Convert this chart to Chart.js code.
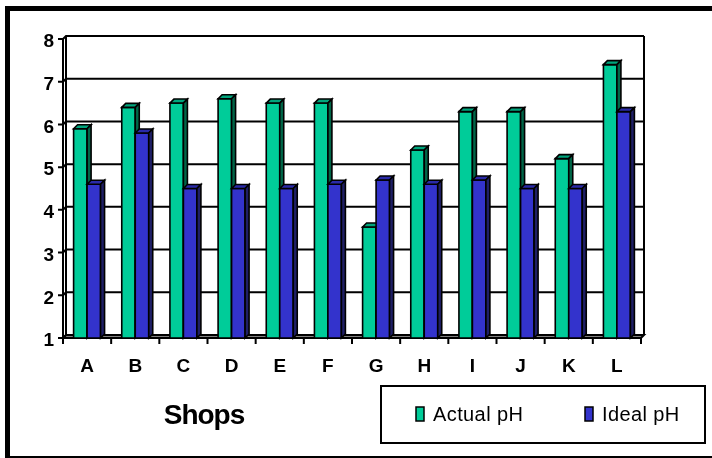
<!DOCTYPE html>
<html>
<head>
<meta charset="utf-8">
<title>Actual vs Ideal pH</title>
<script src="https://cdn.jsdelivr.net/npm/chart.js@4.4.1/dist/chart.umd.min.js"></script>
<style>
    html, body { margin: 0; padding: 0; background: #fff; overflow: hidden; }
    .frame {
        position: absolute; left: 5px; top: 6px;
        width: 730px; height: 455px;
        box-sizing: border-box;
        border: 5px solid #000;
    }
    #phChart { position: absolute; left: 0; top: 0; }
</style>
</head>
<body>
<div class="frame"></div>
<canvas id="phChart" width="712" height="458"></canvas>
<script>
// ====================================
// DATA
// ====================================

const shops = ['A', 'B', 'C', 'D', 'E', 'F', 'G', 'H', 'I', 'J', 'K', 'L'];
const actualPH = [5.9, 6.4, 6.5, 6.6, 6.5, 6.5, 3.6, 5.4, 6.3, 6.3, 5.2, 7.4];
const idealPH = [4.6, 5.8, 4.5, 4.5, 4.5, 4.6, 4.7, 4.6, 4.7, 4.5, 4.5, 6.3];
const yMin = 1;
const yMax = 8;
const axisTitle = 'Shops';

// ====================================
// STYLE
// ====================================

const FONT = '"Liberation Sans", Arial, sans-serif';
const WALL = 3;      // depth offset of the back wall
const DEPTH = 4;     // depth of each column

const greenFaces = { front: '#00CC99', top: '#00A57C', side: '#006648' };
const blueFaces = { front: '#3333CC', top: '#2A2AA8', side: '#1F1F66' };

// ====================================
// 3D COLUMN LOOK
// ====================================

function poly(ctx, pts, fill){
    ctx.beginPath();
    ctx.moveTo(pts[0][0], pts[0][1]);
    for(let i = 1; i < pts.length; i++) ctx.lineTo(pts[i][0], pts[i][1]);
    ctx.closePath();
    if(fill){ ctx.fillStyle = fill; ctx.fill(); }
    ctx.stroke();
}

const columns3d = {
    id: 'columns3d',

    beforeDatasetsDraw(chart){
        const ctx = chart.ctx;
        const a = chart.chartArea;
        const xs = chart.scales.x;
        const ys = chart.scales.y;

        ctx.save();
        ctx.strokeStyle = '#000';
        ctx.lineWidth = 2;

        // floor
        poly(ctx, [
            [a.left, a.bottom], [a.right, a.bottom],
            [a.right + WALL, a.bottom - WALL], [a.left + WALL, a.bottom - WALL]
        ], '#808080');

        // back wall gridlines + y ticks
        ys.ticks.forEach(t => {
            const yy = ys.getPixelForValue(t.value);
            ctx.beginPath();
            ctx.moveTo(a.left - 5, yy);
            ctx.lineTo(a.left, yy);
            ctx.lineTo(a.left + WALL, yy - WALL);
            ctx.lineTo(a.right + WALL, yy - WALL);
            ctx.stroke();
        });

        // wall edges
        ctx.beginPath();
        ctx.moveTo(a.left + WALL, a.top - WALL);
        ctx.lineTo(a.left + WALL, a.bottom - WALL);
        ctx.moveTo(a.right + WALL, a.top - WALL);
        ctx.lineTo(a.right + WALL, a.bottom - WALL);
        ctx.stroke();

        // front axes
        ctx.beginPath();
        ctx.moveTo(a.left, a.top);
        ctx.lineTo(a.left, a.bottom);
        ctx.lineTo(a.right, a.bottom);
        ctx.stroke();

        // category tick marks
        const step = xs.getPixelForValue(1) - xs.getPixelForValue(0);
        for(let i = 0; i <= shops.length; i++){
            const xx = xs.getPixelForValue(0) - step / 2 + i * step;
            ctx.beginPath();
            ctx.moveTo(xx, a.bottom);
            ctx.lineTo(xx, a.bottom + 6);
            ctx.stroke();
        }

        ctx.restore();
    },

    beforeDatasetDraw(){
        return false;
    },

    afterDatasetsDraw(chart){
        const ctx = chart.ctx;
        const faces = [greenFaces, blueFaces];
        const floorY = chart.scales.y.getPixelForValue(yMin);
        ctx.save();
        ctx.strokeStyle = '#000';
        ctx.lineWidth = 1.6;

        for(let i = 0; i < shops.length; i++){
            chart.data.datasets.forEach((ds, d) => {
                const bar = chart.getDatasetMeta(d).data[i];
                const f = faces[d];
                const l = bar.x - bar.width / 2;
                const r = bar.x + bar.width / 2;
                const t = bar.y;
                const b = Math.min(bar.base, floorY);

                poly(ctx, [[l, t], [r, t], [r, b], [l, b]], f.front);
                poly(ctx, [[l, t], [l + DEPTH, t - DEPTH], [r + DEPTH, t - DEPTH], [r, t]], f.top);
                poly(ctx, [[r, t], [r + DEPTH, t - DEPTH], [r + DEPTH, b - DEPTH], [r, b]], f.side);
            });
        }
        ctx.restore();
    },

    afterDraw(chart){
        const ctx = chart.ctx;
        ctx.save();

        // axis title
        ctx.fillStyle = '#000';
        ctx.font = 'bold 28px ' + FONT;
        ctx.letterSpacing = '-1px';
        ctx.textAlign = 'center';
        ctx.textBaseline = 'alphabetic';
        ctx.fillText(axisTitle, 204, 424);
        ctx.letterSpacing = '0px';

        // legend
        ctx.strokeStyle = '#000';
        ctx.lineWidth = 2;
        ctx.strokeRect(381, 386, 324, 57);

        const itemX = [416, 585];
        ctx.font = '20px ' + FONT;
        ctx.letterSpacing = '0.4px';
        ctx.textAlign = 'left';
        chart.data.datasets.forEach((ds, d) => {
            ctx.fillStyle = ds.backgroundColor;
            ctx.lineWidth = 1.5;
            ctx.fillRect(itemX[d], 407, 8, 14);
            ctx.strokeRect(itemX[d], 407, 8, 14);
            ctx.fillStyle = '#000';
            ctx.fillText(ds.label, itemX[d] + 17, 421);
        });

        ctx.restore();
    }
};

// ====================================
// CHART
// ====================================

const ctxPH = document.getElementById('phChart').getContext('2d');
const phChart = new Chart(ctxPH, {
    type: 'bar',
    data: {
        labels: shops,
        datasets: [{
            label: 'Actual pH',
            data: actualPH,
            backgroundColor: greenFaces.front
        }, {
            label: 'Ideal pH',
            data: idealPH,
            backgroundColor: blueFaces.front
        }]
    },
    options: {
        responsive: false,
        animation: false,
        devicePixelRatio: 1,
        layout: {
            padding: { top: 39, right: 71, bottom: 0, left: 0 }
        },
        datasets: {
            bar: { categoryPercentage: 0.56, barPercentage: 1 }
        },
        plugins: {
            legend: { display: false },
            tooltip: { enabled: false }
        },
        scales: {
            x: {
                grid: { display: false, drawTicks: false },
                border: { display: false },
                ticks: {
                    color: '#000',
                    padding: 17,
                    font: { family: FONT, size: 19, weight: 'bold' }
                },
                afterFit(scale){ scale.height = 120; }
            },
            y: {
                min: yMin,
                max: yMax,
                grid: { display: false, drawTicks: false },
                border: { display: false },
                ticks: {
                    stepSize: 1,
                    color: '#000',
                    padding: 9,
                    labelOffset: 3,
                    font: { family: FONT, size: 19, weight: 'bold' }
                },
                afterFit(scale){ scale.width = 63; }
            }
        }
    },
    plugins: [columns3d]
});
</script>
</body>
</html>
